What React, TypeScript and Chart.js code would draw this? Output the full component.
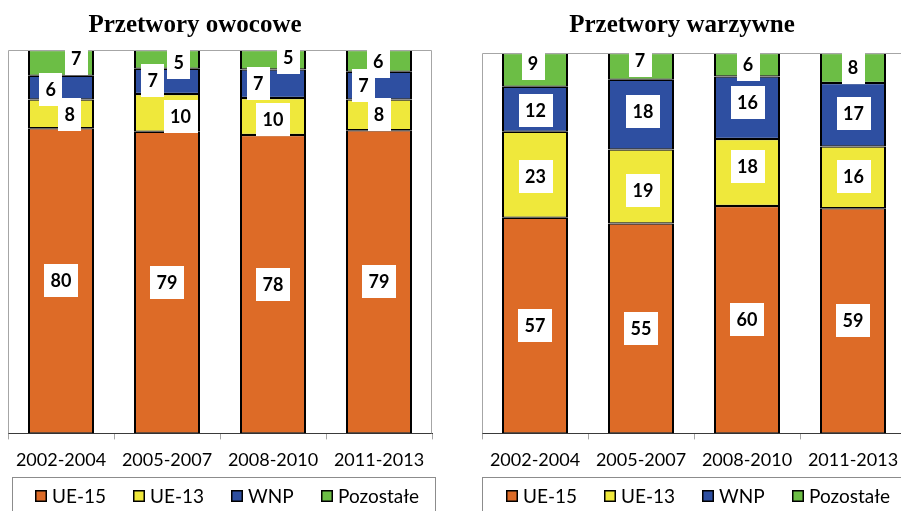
import React, { useEffect, useRef } from "react";
import { Chart, registerables } from "chart.js";

Chart.register(...registerables);

const categories = ["2002-2004", "2005-2007", "2008-2010", "2011-2013"];
const seriesNames = ["UE-15", "UE-13", "WNP", "Pozostałe"];

// shares (%); labels show rounded values
const fruitUE15 = [79.6, 78.7, 77.8, 79.1];
const fruitUE13 = [7.5, 9.8, 9.7, 8.0];
const fruitWNP = [6.2, 6.6, 7.4, 7.2];
const fruitOther = [6.7, 4.9, 5.1, 5.7];

const vegUE15 = [56.7, 55.2, 59.8, 59.2];
const vegUE13 = [22.6, 19.4, 17.6, 16.2];
const vegWNP = [11.8, 18.4, 16.4, 16.7];
const vegOther = [8.9, 7.0, 6.2, 7.9];

const colors = ["#DD6B27", "#EFE83B", "#2E4FA1", "#6CBE45"];

type PanelCfg = {
  title: string;
  titleX: number;
  values: number[][];
  nudgeX: number[][];
  nudgeY: number[][];
  padTop: number;
  padLeft: number;
  padRight: number;
  width: number;
  left: number;
  legendX1: number;
  legendX2: number;
  legendCenter: number;
};

const panels: PanelCfg[] = [
  {
    title: "Przetwory owocowe",
    titleX: 195,
    values: [fruitUE15, fruitUE13, fruitWNP, fruitOther],
    nudgeX: [
      [0, 0, 0, 0],
      [8.7, 13.5, 0, 0],
      [-10.2, -14.2, -14.7, -15.5],
      [15.2, 11.7, 15.2, -0.7],
    ],
    nudgeY: [
      [0, 0, 0, 0],
      [1, 3.3, 2.8, -0.5],
      [2, -1.4, -0.2, -0.2],
      [-4, 3.3, -1.9, 1],
    ],
    padTop: 50,
    padLeft: 8,
    padRight: 18,
    width: 450,
    left: 0,
    legendX1: 12,
    legendX2: 435,
    legendCenter: 226.5,
  },
  {
    title: "Przetwory warzywne",
    titleX: 232,
    values: [vegUE15, vegUE13, vegWNP, vegOther],
    nudgeX: [
      [0, 0, 0, 0],
      [0.5, 2, 0.5, 0.5],
      [0.5, 2, 0.5, 0.5],
      [-2, -1, 1, 0],
    ],
    nudgeY: [
      [0, 0, 0, 0],
      [1.6, 4, -6.2, -0.5],
      [1, -3, -4.8, -1],
      [-6, -5.5, 0, -0.5],
    ],
    padTop: 53,
    padLeft: 32,
    padRight: 14,
    width: 470,
    left: 450,
    legendX1: 32,
    legendX2: 464,
    legendCenter: 248,
  },
];

function makePlugin(cfg: PanelCfg) {
  return {
    id: "customDecor",
    afterDatasetsDraw(chart: any) {
      const { ctx, chartArea } = chart;
      // frame (left, top, right)
      ctx.save();
      ctx.strokeStyle = "#A6A6A6";
      ctx.lineWidth = 1;
      ctx.beginPath();
      ctx.moveTo(chartArea.left + 0.5, chartArea.bottom);
      ctx.lineTo(chartArea.left + 0.5, chartArea.top + 0.5);
      ctx.lineTo(chartArea.right - 0.5, chartArea.top + 0.5);
      ctx.lineTo(chartArea.right - 0.5, chartArea.bottom);
      ctx.stroke();
      ctx.restore();

      // segment labels
      ctx.save();
      ctx.beginPath();
      ctx.rect(chartArea.left, chartArea.top, chartArea.right - chartArea.left, chartArea.bottom - chartArea.top);
      ctx.clip();
      ctx.font = "bold 18px Lato";
      chart.data.datasets.forEach((ds: any, di: number) => {
        const meta = chart.getDatasetMeta(di);
        meta.data.forEach((bar: any, i: number) => {
          const v = ds.data[i];
          const top = Math.max(Math.min(bar.y, bar.base), chartArea.top);
          const bottom = Math.min(Math.max(bar.y, bar.base), chartArea.bottom);
          const cx = bar.x + cfg.nudgeX[di][i];
          const cy = (top + bottom) / 2 + cfg.nudgeY[di][i];
          const text = String(Math.round(v));
          const w = Math.round(ctx.measureText(text).width + 13);
          const h = 33;
          ctx.fillStyle = "#FFFFFF";
          ctx.fillRect(Math.round(cx - w / 2), Math.round(cy - h / 2), w, h);
          ctx.fillStyle = "#000000";
          ctx.textAlign = "center";
          ctx.textBaseline = "alphabetic";
          ctx.fillText(text, cx, cy + 6.5);
        });
      });
      ctx.restore();
    },
    afterDraw(chart: any) {
      const { ctx } = chart;
      // title
      ctx.save();
      ctx.font = "bold 25px 'Liberation Serif'";
      ctx.fillStyle = "#000000";
      ctx.textAlign = "center";
      ctx.textBaseline = "alphabetic";
      ctx.fillText(cfg.title, cfg.titleX, 32);
      ctx.restore();

      // legend
      ctx.save();
      ctx.strokeStyle = "#8C8C8C";
      ctx.lineWidth = 1;
      ctx.strokeRect(cfg.legendX1 + 0.5, 477.5, cfg.legendX2 - cfg.legendX1, 60);
      ctx.font = "19px Lato";
      const gap = 27;
      const items = chart.data.datasets.map((ds: any) => ({
        label: ds.label,
        color: ds.backgroundColor,
        w: 12 + 5 + ctx.measureText(ds.label).width,
      }));
      const total = items.reduce((s: number, it: any) => s + it.w, 0) + gap * (items.length - 1);
      let x = Math.round(cfg.legendCenter - total / 2);
      items.forEach((it: any) => {
        const sx = Math.round(x);
        ctx.fillStyle = it.color;
        ctx.fillRect(sx, 490, 12, 12);
        ctx.strokeStyle = "#000000";
        ctx.lineWidth = 1.5;
        ctx.strokeRect(sx + 0.75, 490.75, 10.5, 10.5);
        ctx.fillStyle = "#000000";
        ctx.textAlign = "left";
        ctx.textBaseline = "alphabetic";
        ctx.fillText(it.label, sx + 17, 503);
        x += it.w + gap;
      });
      ctx.restore();
    },
  };
}

function Panel({ cfg }: { cfg: PanelCfg }) {
  const ref = useRef<HTMLCanvasElement | null>(null);
  useEffect(() => {
    if (!ref.current) return;
    const chart = new Chart(ref.current, {
      type: "bar",
      data: {
        labels: categories,
        datasets: cfg.values.map((vals, i) => ({
          label: seriesNames[i],
          data: vals,
          backgroundColor: colors[i],
          borderColor: "#000000",
          borderWidth: { top: 1.25, bottom: 1.25, left: 2, right: 2 },
          borderSkipped: false,
          categoryPercentage: 1,
          barPercentage: 0.6226,
        })),
      },
      options: {
        responsive: false,
        animation: false,
        devicePixelRatio: 1,
        layout: {
          padding: { top: cfg.padTop, left: cfg.padLeft, right: cfg.padRight, bottom: 30 },
        },
        plugins: {
          legend: { display: false },
          title: { display: false },
          tooltip: { enabled: false },
        },
        scales: {
          x: {
            stacked: true,
            offset: true,
            grid: {
              display: true,
              drawOnChartArea: false,
              drawTicks: true,
              tickLength: 6,
              color: "#A6A6A6",
              offset: true,
            },
            border: { display: true, color: "#3A3A3A", width: 1 },
            ticks: {
              color: "#000000",
              padding: 10,
              maxRotation: 0,
              autoSkip: false,
              font: { family: "Lato", size: 18 },
            },
          },
          y: {
            stacked: true,
            display: false,
            min: 0,
            max: 100,
          },
        },
      },
      plugins: [makePlugin(cfg)],
    });
    return () => chart.destroy();
  }, [cfg]);
  return (
    <canvas
      ref={ref}
      width={cfg.width}
      height={511}
      style={{ position: "absolute", left: cfg.left, top: 0, width: cfg.width, height: 511 }}
    />
  );
}

export default function App() {
  return (
    <div
      style={{
        position: "fixed",
        left: 0,
        top: 0,
        width: 901,
        height: 511,
        overflow: "hidden",
        background: "#FFFFFF",
      }}
    >
      {panels.map((p, i) => (
        <Panel key={i} cfg={p} />
      ))}
    </div>
  );
}
